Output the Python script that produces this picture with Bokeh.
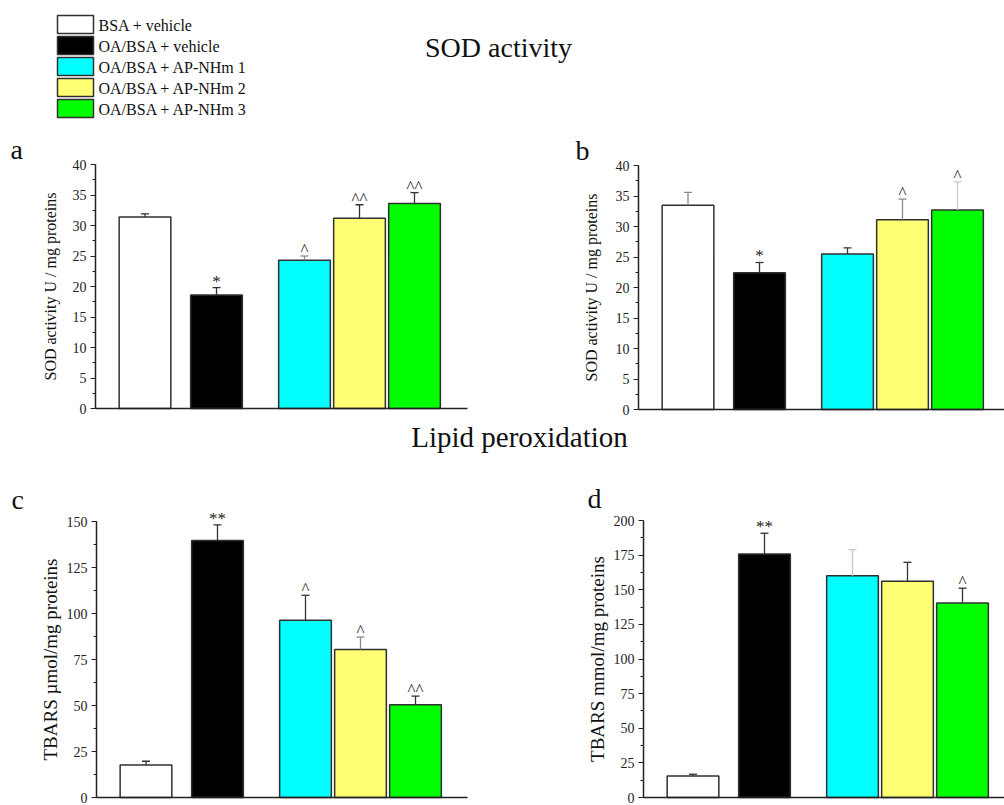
from bokeh.plotting import figure
from bokeh.layouts import column, row
from bokeh.models import Range1d, SingleIntervalTicker, FixedTicker, ColumnDataSource, LabelSet
from bokeh.embed import file_html
from bokeh.resources import INLINE
from bokeh.core.properties import value

FONT = "Liberation Serif"

# ---------------- data ----------------
groups = ["BSA + vehicle", "OA/BSA + vehicle", "OA/BSA + AP-NHm 1",
          "OA/BSA + AP-NHm 2", "OA/BSA + AP-NHm 3"]
colors = ["#FFFFFF", "#000000", "#00FFFF", "#FFFF73", "#00FF00"]

sod_a = [31.4, 18.6, 24.3, 31.2, 33.6]
sod_a_err = [0.5, 1.2, 0.7, 2.2, 1.8]
sod_a_sig = ["", "*", "^", "^^", "^^"]

sod_b = [33.5, 22.4, 25.5, 31.1, 32.7]
sod_b_err = [2.1, 1.7, 1.0, 3.4, 4.6]
sod_b_sig = ["", "*", "", "^", "^"]

tbars_c = [17.7, 139.7, 96.3, 80.5, 50.4]
tbars_c_err = [2.0, 8.5, 13.6, 6.7, 4.7]
tbars_c_sig = ["", "**", "^", "^", "^^"]

tbars_d = [15.6, 175.9, 160.1, 156.1, 140.5]
tbars_d_err = [1.2, 14.9, 18.9, 13.7, 10.6]
tbars_d_sig = ["", "**", "", "", "^"]

# ---------------- styles / layout constants ----------------
UNIT = 55.0                        # px per slot unit
SLOTS = [0.9, 2.2, 3.8, 4.8, 5.8]  # category slot positions
BAR_W = 0.94
AXIS_COL = "#222222"
EDGE_COL = "#303030"
DK, MD, LT = "#333333", "#8a8a8a", "#c8c8c8"
err_cols_a = [DK, DK, MD, DK, DK]
err_cols_b = [MD, DK, DK, MD, LT]
err_cols_c = [DK, DK, DK, MD, DK]
err_cols_d = [DK, DK, LT, DK, DK]
TXT = "#111111"
BASE_FIX = 0.32   # svg text sits ~0.32em lower than the requested baseline
LETTER_PX = 28


def make_panel(vals, errs, sigs, ecols, ymax, step, ylabel, label_px, label_standoff,
               fig_left, frame_left, frame_right, fig_right,
               fig_top, axis_top, frame_bottom, fig_bottom,
               letter, letter_x, letter_base):
    width = fig_right - fig_left
    height = fig_bottom - fig_top
    ppu = (frame_bottom - axis_top) / ymax          # px per y unit
    x_start = -(frame_left - fig_left) / UNIT
    x_end = (fig_right - frame_left) / UNIT
    y_start = -(fig_bottom - frame_bottom) / ppu
    y_end = ymax + (axis_top - fig_top) / ppu
    p = figure(width=width, height=height,
               x_range=Range1d(x_start, x_end), y_range=Range1d(y_start, y_end),
               output_backend="svg", toolbar_location=None, min_border=0)
    p.outline_line_color = None
    p.grid.visible = False
    p.background_fill_color = "white"
    p.border_fill_color = "white"

    src = ColumnDataSource(dict(x=SLOTS, top=vals,
                                hi=[v + e for v, e in zip(vals, errs)],
                                color=colors, sig=sigs, ecol=ecols))
    p.vbar(x="x", top="top", bottom=0, width=BAR_W, fill_color="color",
           line_color=EDGE_COL, line_width=1.5, source=src)
    p.segment(x0="x", y0="top", x1="x", y1="hi", line_color="ecol",
              line_width=1.3, source=src)
    p.scatter(x="x", y="hi", marker="dash", size=8, line_color="ecol",
              line_width=1.3, source=src)
    p.add_layout(LabelSet(x="x", y="hi", text="sig", source=src,
                          text_align="center", text_baseline="alphabetic",
                          y_offset=1, text_font=value(FONT),
                          text_font_size=value("17px"), text_color="#222222"))

    # panel letter, placed in the panel's own coordinates
    p.text(x=[(letter_x - frame_left) / UNIT],
           y=[(frame_bottom - (letter_base - BASE_FIX * LETTER_PX)) / ppu],
           text=[letter], text_font=value(FONT),
           text_font_size=value(f"{LETTER_PX}px"), text_align="left",
           text_baseline="alphabetic", text_color=TXT)

    xa = p.xaxis[0]
    xa.fixed_location = 0
    xa.bounds = (0, (frame_right - frame_left) / UNIT)
    xa.ticker = FixedTicker(ticks=[], minor_ticks=[])
    xa.axis_line_color = AXIS_COL
    xa.axis_line_width = 1.5
    xa.major_tick_line_color = None
    xa.minor_tick_line_color = None

    ax = p.yaxis[0]
    ax.fixed_location = 0
    ax.bounds = (0, ymax)
    ax.ticker = SingleIntervalTicker(interval=step, num_minor_ticks=2)
    ax.axis_line_color = AXIS_COL
    ax.axis_line_width = 1.5
    ax.major_tick_line_color = AXIS_COL
    ax.major_tick_line_width = 1.2
    ax.minor_tick_line_color = AXIS_COL
    ax.minor_tick_line_width = 1.2
    ax.major_tick_in = 0
    ax.major_tick_out = 5
    ax.minor_tick_in = 0
    ax.minor_tick_out = 3
    ax.major_label_standoff = 4
    ax.major_label_text_font = FONT
    ax.major_label_text_font_size = "14px"
    ax.major_label_text_color = "#222222"
    ax.axis_label = ylabel
    ax.axis_label_text_font = FONT
    ax.axis_label_text_font_style = "normal"
    ax.axis_label_text_font_size = label_px
    ax.axis_label_text_color = TXT
    ax.axis_label_standoff = label_standoff
    return p


def make_text_strip(y_top, y_bottom):
    p = figure(width=1004, height=y_bottom - y_top,
               x_range=Range1d(0, 1004), y_range=Range1d(y_bottom, y_top),
               output_backend="svg", toolbar_location=None,
               x_axis_location=None, y_axis_location=None,
               min_border=0)
    p.outline_line_color = None
    p.grid.visible = False
    return p


def put_text(p, xs, baselines, texts, size, align="left"):
    p.text(x=xs, y=[b - BASE_FIX * size for b in baselines], text=texts,
           text_font=value(FONT), text_font_size=value(f"{size}px"),
           text_align=align, text_baseline="alphabetic", text_color=TXT)


HEAD_BOTTOM = 135
ROW1_BOTTOM = 417
MID_BOTTOM = 472
PAGE_BOTTOM = 805

# ---------------- header: legend + title ----------------
head = make_text_strip(0, HEAD_BOTTOM)
leg_y = [24 + 21 * i for i in range(len(groups))]
head.rect(x=[75] * len(groups), y=leg_y, width=36, height=18,
          fill_color=colors, line_color=EDGE_COL, line_width=1.5)
put_text(head, [98] * len(groups), [v + 6 for v in leg_y], groups, 16)
put_text(head, [498], [56], ["SOD activity"], 28, align="center")

# ---------------- middle: title ----------------
mid = make_text_strip(ROW1_BOTTOM, MID_BOTTOM)
put_text(mid, [519], [446], ["Lipid peroxidation"], 29, align="center")

# ---------------- panels ----------------
pa = make_panel(sod_a, sod_a_err, sod_a_sig, err_cols_a, 40, 5,
                "SOD activity U / mg proteins", "16px", 11,
                0, 95, 467, 500, HEAD_BOTTOM, 164, 408, ROW1_BOTTOM,
                "a", 10, 158)
pb = make_panel(sod_b, sod_b_err, sod_b_sig, err_cols_b, 40, 5,
                "SOD activity U / mg proteins", "16px", 13,
                500, 638, 1004, 1004, HEAD_BOTTOM, 165, 409, ROW1_BOTTOM,
                "b", 575, 159)
pc = make_panel(tbars_c, tbars_c_err, tbars_c_sig, err_cols_c, 150, 25,
                "TBARS \u00b5mol/mg proteins", "19px", 3,
                0, 96, 467, 500, MID_BOTTOM, 521, 797, PAGE_BOTTOM,
                "c", 11, 508)
pd = make_panel(tbars_d, tbars_d_err, tbars_d_sig, err_cols_d, 200, 25,
                "TBARS mmol/mg proteins", "19px", 3,
                500, 643, 1004, 1004, MID_BOTTOM, 520, 797, PAGE_BOTTOM,
                "d", 587, 507)

layout = column(head, row(pa, pb), mid, row(pc, pd))

with open("out.html", "w") as f:
    f.write(file_html(layout, INLINE))
